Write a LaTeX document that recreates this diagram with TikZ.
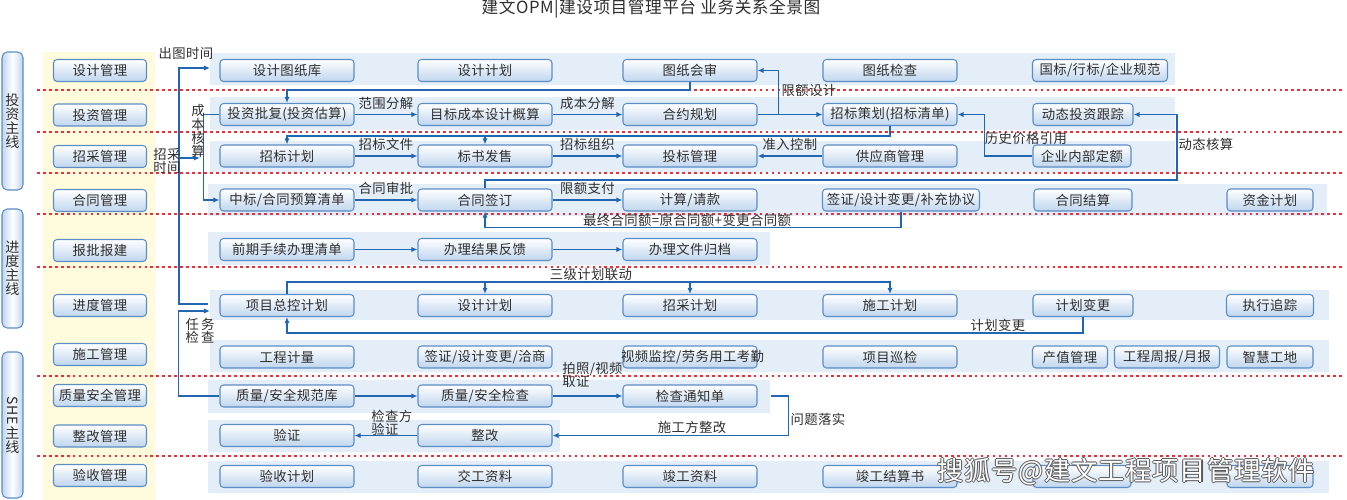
\documentclass[tikz,border=0pt]{standalone}
\usepackage{fontspec}
\setmainfont{Noto Sans CJK SC}[LetterSpace=3]
\usepackage{tikz}
\usetikzlibrary{arrows.meta,positioning,calc}

\definecolor{lanefill}{HTML}{E4EEF8}
\definecolor{colfill}{HTML}{FFFBDC}
\definecolor{boxline}{HTML}{5B8DC6}
\definecolor{boxfill}{HTML}{BFD5EE}
\definecolor{lnk}{HTML}{2066B0}
\definecolor{txt}{HTML}{2E2E2E}
\definecolor{sep}{HTML}{E8303A}

\tikzset{
  bizbox/.style={draw=boxline, line width=0.6pt, rounded corners=2pt, top color=white, bottom color=boxfill,
    minimum width=2.68cm, minimum height=0.44cm, inner sep=0pt, text=txt, font=\fontsize{7.6}{9}\selectfont},
  modbox/.style={bizbox, minimum width=1.86cm},
  lanebox/.style={draw=boxline, line width=0.6pt, rounded corners=3pt, left color=boxfill, right color=boxfill,
    middle color=white, minimum width=0.42cm, inner sep=0pt, text=txt, align=center, font=\fontsize{8}{8}\selectfont},
  flow/.style={draw=lnk, line width=0.9pt, -{Latex[length=3.5pt,width=3pt]}},
  sepline/.style={draw=sep, line width=0.9pt, dash pattern=on 1.5pt off 1.9pt},
  tag/.style={text=txt, inner sep=0pt, font=\fontsize{7.6}{7.6}\selectfont},
}

\begin{document}
\begin{tikzpicture}[x=0.02cm, y=-0.02cm]
\useasboundingbox (0,0) rectangle (1347,500);

\node[tag, font=\fontsize{9.5}{9.5}\selectfont] (title) at (651,9) {建文OPM|建设项目管理平台 业务关系全景图};

% backgrounds
\fill[colfill] (43,52) rectangle (155,500);
\fill[lanefill] (210,53) rectangle (1175,85);   % design
\fill[lanefill] (210,97) rectangle (1175,130);  % invest
\fill[lanefill] (210,141) rectangle (1175,172); % bidding
\fill[lanefill] (208,184) rectangle (1327,216); % contract
\fill[lanefill] (208,232) rectangle (770,265);  % approval
\fill[lanefill] (210,290) rectangle (1329,320); % schedule
\fill[lanefill] (210,340) rectangle (1329,372); % construction
\fill[lanefill] (208,380) rectangle (770,413);  % quality
\fill[lanefill] (208,420) rectangle (560,452);  % rectify
\fill[lanefill] (208,461) rectangle (1329,493); % acceptance

\draw[sepline] (37,90) -- (1345,90);
\draw[sepline] (37,132) -- (1345,132);
\draw[sepline] (37,173) -- (1345,173);
\draw[sepline] (37,214) -- (1345,214);
\draw[sepline] (37,267) -- (1345,267);
\draw[sepline] (37,376) -- (1345,376);
\draw[sepline] (37,456) -- (1345,456);

% main lines
\node[lanebox, minimum height=2.76cm] (invlane) at (12.5,121) {投\\资\\主\\线};
\node[lanebox, minimum height=2.38cm] (schlane) at (12.5,268.5) {进\\度\\主\\线};
\node[lanebox, minimum height=2.92cm] (shelane) at (12.5,425) {\rotatebox[origin=c]{-90}{SHE}\\主\\线};

% modules
\node[modbox] (m1) at (100,70.5) {设计管理};
\node[modbox] (m2) at (100,115) {投资管理};
\node[modbox] (m3) at (100,156.5) {招采管理};
\node[modbox] (m4) at (100,200.5) {合同管理};
\node[modbox] (m5) at (100,250.5) {报批报建};
\node[modbox] (m6) at (100,305.5) {进度管理};
\node[modbox] (m7) at (100,354.5) {施工管理};
\node[modbox] (m8) at (100,395.5) {质量安全管理};
\node[modbox] (m9) at (100,436) {整改管理};
\node[modbox] (m10) at (100,475.5) {验收管理};

% row 1
\node[bizbox] (dwglib) at (287,70.5) {设计图纸库};
\node[bizbox] (dplan) at (485,70.5) {设计计划};
\node[bizbox] (review) at (690,70.5) {图纸会审};
\node[bizbox] (dcheck) at (890,70.5) {图纸检查};
\node[bizbox, minimum width=2.7cm] (norms) at (1100,70.5) {国标/行标/企业规范};
% row 2
\node[bizbox] (approve) at (287,114.5) {投资批复(投资估算)};
\node[bizbox] (target) at (485,114.5) {目标成本设计概算};
\node[bizbox] (ctplan) at (690,114.5) {合约规划};
\node[bizbox] (tplan) at (890,114.5) {招标策划(招标清单)};
\node[bizbox, minimum width=2cm] (dyntrack) at (1083,114.5) {动态投资跟踪};
% row 3
\node[bizbox] (bidplan) at (287,156) {招标计划};
\node[bizbox] (docsale) at (485,156) {标书发售};
\node[bizbox] (bidmgr) at (690,156) {投标管理};
\node[bizbox] (supplier) at (890,156) {供应商管理};
\node[bizbox, minimum width=1.96cm] (quota) at (1082,156) {企业内部定额};
% row 4
\node[bizbox] (award) at (287,200) {中标/合同预算清单};
\node[bizbox] (signing) at (485,200) {合同签订};
\node[bizbox] (payreq) at (690,200) {计算/请款};
\node[bizbox, minimum width=3.14cm] (visa) at (901,200) {签证/设计变更/补充协议};
\node[bizbox, minimum width=1.96cm] (settle) at (1083,200) {合同结算};
\node[bizbox, minimum width=1.72cm] (fund) at (1270,200) {资金计划};
% row 5
\node[bizbox] (prelist) at (287,249.5) {前期手续办理清单};
\node[bizbox] (feedback) at (485,249.5) {办理结果反馈};
\node[bizbox] (archive) at (690,249.5) {办理文件归档};
% row 6
\node[bizbox] (master) at (287,305.5) {项目总控计划};
\node[bizbox] (dsched) at (485,305.5) {设计计划};
\node[bizbox] (psched) at (690,305.5) {招采计划};
\node[bizbox] (csched) at (890,305.5) {施工计划};
\node[bizbox, minimum width=2cm] (change) at (1083,305.5) {计划变更};
\node[bizbox, minimum width=1.74cm] (trace) at (1270,305.5) {执行追踪};
% row 7
\node[bizbox] (measure) at (287,357) {工程计量};
\node[bizbox] (visa2) at (485,357) {签证/设计变更/洽商};
\node[bizbox] (video) at (690,357) {\makebox[0pt]{\hspace*{0.1cm}视频监控/劳务用工考勤}};
\node[bizbox] (patrol) at (890,357) {项目巡检};
\node[bizbox, minimum width=1.5cm] (output) at (1070,357) {产值管理};
\node[bizbox, minimum width=2.1cm] (report) at (1167,357) {工程周报/月报};
\node[bizbox, minimum width=1.72cm] (smart) at (1270,357) {智慧工地};
% row 8-9
\node[bizbox] (qlib) at (287,396) {质量/安全规范库};
\node[bizbox] (qcheck) at (485,396) {质量/安全检查};
\node[bizbox] (notice) at (690,396) {检查通知单};
\node[bizbox] (verify) at (287,435.5) {验证};
\node[bizbox] (rectify) at (485,435.5) {整改};
% row 10
\node[bizbox] (accplan) at (287,476.5) {验收计划};
\node[bizbox] (handover) at (485,476.5) {交工资料};
\node[bizbox] (asbuilt) at (690,476.5) {竣工资料};
\node[bizbox] (final) at (890,476.5) {竣工结算书};
\node[bizbox, minimum width=1.96cm] (hid1) at (1082,476.5) {};
\node[bizbox, minimum width=1.72cm] (hid2) at (1270,476.5) {};

% links
\coordinate (trunk) at (179,0);
\coordinate (dwgin) at (210,68);
\coordinate (bidin) at (200,158);
\coordinate (mpin) at (208,304);
\coordinate (taskin) at (210,311);
\draw[flow] (mpin) -- ++(-29,0) |- (dwgin);
\draw[flow] (trunk |- bidin) -- (bidin);
\node[tag] (lbdwg) at (186,53) {出图时间};
\node[tag, align=center] (lbbid) at (167,161) {招采\\时间};

\draw[flow] (approve.west) -- ++(-16,0) |- (award.west);
\node[tag, align=center, font=\fontsize{7.6}{7.9}\selectfont] (lbcost) at (198,131) {成\\本\\核\\算};

\draw[flow] (qlib.west) -- ++(-41,0) |- (taskin);
\node[tag, align=center] (lbtask) at (200,331) {任\,务\\检\,查};

\draw[flow] (review.south) -- ++(0,8) -| (approve.north);
\draw[flow] (approve) -- node[tag, above=2.5pt]{范围分解} (target);
\draw[flow] (target) -- node[tag, above=2.5pt]{成本分解} (ctplan);
\draw[flow] (ctplan) -- (tplan);
\draw[flow] (ctplan.east) ++(21,0) |- (review.east);
\node[tag] (lblim) at (809,90) {限额设计};

\draw[flow] (tplan.south) -- ++(0,10) -| (bidplan.north);
\draw[flow] (tplan.south) ++(0,10) -| (docsale.north);
\draw[flow] (bidplan) -- node[tag, above=2.5pt]{招标文件} (docsale);
\draw[flow] (docsale) -- node[tag, above=2.5pt]{招标组织} (bidmgr);
\draw[flow] (supplier) -- node[tag, above=2.5pt]{准入控制} (bidmgr);
\draw[flow] (quota.west) -- ++(-48,0) |- (tplan.east);
\node[tag] (lbhist) at (1026,138) {历史价格引用};

\coordinate (dynr) at (1177,180);
\draw[flow] (signing.north) |- (dynr) |- (dyntrack.east);
\node[tag] (lbdyn) at (1206,144) {动态核算};

\draw[flow] (award) -- node[tag, above=2.5pt]{合同审批} (signing);
\draw[flow] (signing) -- node[tag, above=2.5pt]{限额支付} (payreq);
\draw[flow] (visa.south) -- ++(0,16) -| (signing.south);
\node[tag] (lbfinal) at (687,220) {最终合同额=原合同额+变更合同额};

\draw[flow] (prelist) -- (feedback);
\draw[flow] (feedback) -- (archive);

\coordinate (lk) at (0,282);
\draw[flow] (master.north) |- (lk -| csched.north) -- (csched.north);
\draw[flow] (lk -| dsched.north) -- (dsched.north);
\draw[flow] (lk -| psched.north) -- (psched.north);
\node[tag] (lblink) at (591,274) {三级计划联动};
\draw[flow] (change.south) -- ++(0,16) -| (master.south);
\node[tag] (lbchg) at (998,325) {计划变更};

\draw[flow] (qlib) -- (qcheck);
\draw[flow] (qcheck) -- (notice);
\node[tag, anchor=west, align=left] (lbphoto) at (562,375) {拍照/视频\\取证};
\draw[flow] (notice.east) ++(13,0) -- ++(18,0) |- (rectify.east);
\node[tag] (lbissue) at (818,419) {问题落实};
\node[tag] (lbfix) at (692,427) {施工方整改};
\draw[flow] (rectify) -- (verify);
\node[tag, anchor=west, align=left] (lbver) at (371,423) {检查方\\验证};

% watermark
\foreach \dx/\dy/\k in {-0.6/0/1, 0.6/0/2, 0/-0.6/3, 0/0.6/4}
  \node[inner sep=0pt, text=black!65, font=\fontsize{15}{15}\selectfont] (wm\k) at ($(1126,472)+(\dx pt,\dy pt)$) {搜狐号@建文工程项目管理软件};
\node[inner sep=0pt, text=white, font=\fontsize{15}{15}\selectfont] (wm) at (1126,472) {搜狐号@建文工程项目管理软件};
\end{tikzpicture}
\end{document}
